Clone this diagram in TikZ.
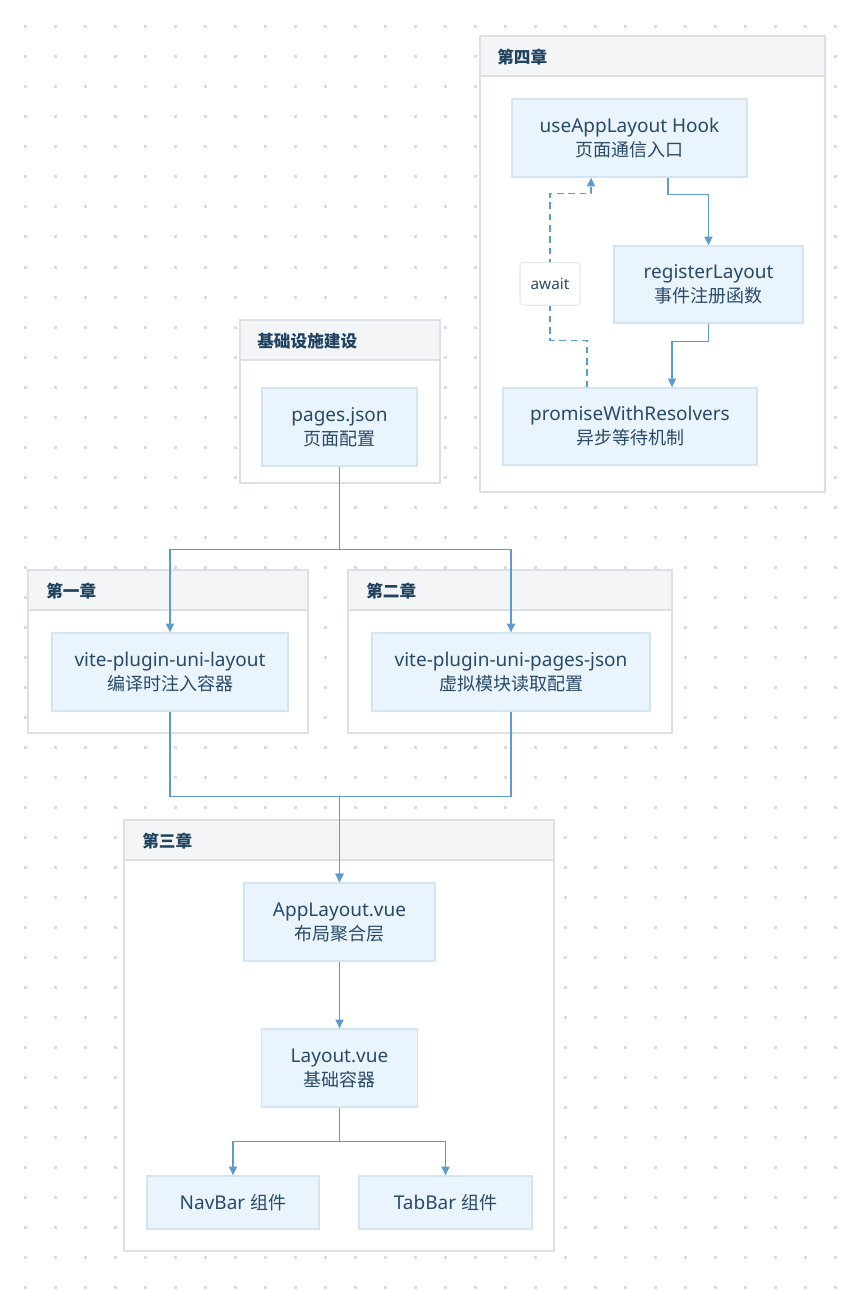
\documentclass[tikz,border=0pt]{standalone}
\usepackage{fontspec}
\setmainfont{Noto Sans}
\newfontfamily\cjk{Noto Sans CJK SC}
\newcommand\zh[1]{{\fontsize{13.5pt}{18pt}\cjk #1}}
\usetikzlibrary{fit,calc,arrows.meta}
\definecolor{dotc}{HTML}{DCDCDC}
\definecolor{nodefill}{HTML}{EAF4FD}
\definecolor{nodeline}{HTML}{D3E4F2}
\definecolor{txt}{HTML}{284A68}
\definecolor{ttl}{HTML}{1F4260}
\definecolor{edgec}{HTML}{5B9BCF}
\definecolor{clline}{HTML}{DCE0E4}
\definecolor{hdfill}{HTML}{F3F5F7}
\definecolor{awline}{HTML}{E6E8EA}
\tikzset{
  box/.style={draw=nodeline, line width=1pt, fill=nodefill, inner sep=0pt, text=txt,
    font=\fontsize{14.25pt}{18pt}\selectfont, align=center, minimum height=58.5pt},
  cluster/.style={draw=clline, line width=1.1pt, fill=white, inner sep=0pt},
  header/.style={draw=clline, line width=1.1pt, fill=hdfill, inner sep=0pt},
  ctitle/.style={anchor=west, text=ttl, font=\fontsize{12.5pt}{15pt}\selectfont\cjk\bfseries, inner sep=0pt},
  edge/.style={draw=edgec, line width=1pt, -{Triangle[length=6.5pt,width=6pt]}},
  awaitlbl/.style={draw=awline, line width=0.8pt, fill=white, rounded corners=2.5pt, text=txt,
    font=\fontsize{11.5pt}{14pt}\selectfont, minimum width=45pt, minimum height=32pt, inner sep=0pt}
}
\begin{document}
\begin{tikzpicture}[x=0.75pt,y=-0.75pt]
\useasboundingbox (0,0) rectangle (845,1291);
% dot grid
\foreach \x in {25,55,...,835}{
  \foreach \y in {27,57,...,1287}{
    \fill[dotc] (\x-1.5,\y-1.5) rectangle ++(3,3);
  }
}
% clusters
\node[cluster, fit={(480,36) (825,492)}] (c4) {};
\node[header, fit={(480,36) (825,76)}] (h4) {};
\node[ctitle] (t4) at (497,57) {第四章};
\node[cluster, fit={(240,320) (440,483)}] (cb) {};
\node[header, fit={(240,320) (440,360)}] (hb) {};
\node[ctitle] (tb0) at (257,341) {基础设施建设};
\node[cluster, fit={(28,570) (308,733)}] (c1) {};
\node[header, fit={(28,570) (308,610)}] (h1) {};
\node[ctitle] (t1) at (46,591) {第一章};
\node[cluster, fit={(348,570) (672,733)}] (c2) {};
\node[header, fit={(348,570) (672,610)}] (h2) {};
\node[ctitle] (t2) at (366,591) {第二章};
\node[cluster, fit={(124,820) (554,1251)}] (c3) {};
\node[header, fit={(124,820) (554,860)}] (h3) {};
\node[ctitle] (t3) at (142,841) {第三章};
% nodes
\node[box, minimum width=176.25pt] (ua) at (629.5,138) {useAppLayout Hook\\\zh{页面通信入口}};
\node[box, minimum width=141.75pt, minimum height=57.75pt] (rl) at (708.5,284.5) {registerLayout\\\zh{事件注册函数}};
\node[box, minimum width=190.5pt, minimum height=57.75pt] (pr) at (630,426.5) {promiseWithResolvers\\\zh{异步等待机制}};
\node[box, minimum width=116.25pt] (pj) at (339.5,427) {pages.json\\\zh{页面配置}};
\node[box, minimum width=177pt] (v1) at (170,672) {vite-plugin-uni-layout\\\zh{编译时注入容器}};
\node[box, minimum width=208.5pt] (v2) at (511,672) {vite-plugin-uni-pages-json\\\zh{虚拟模块读取配置}};
\node[box, minimum width=143.25pt] (al) at (339.5,922) {AppLayout.vue\\\zh{布局聚合层}};
\node[box, minimum width=117pt] (lv) at (339.5,1068) {Layout.vue\\\zh{基础容器}};
\node[box, minimum width=129pt, minimum height=39.75pt] (nb) at (233,1202.5) {NavBar \zh{组件}};
\node[box, minimum width=129.75pt, minimum height=39.75pt] (tb) at (445.5,1202.5) {TabBar \zh{组件}};
% edges
\draw[edge] (pj.south) -- ++(0,83) -| (v1.north);
\draw[edge] (pj.south) -- ++(0,83) -| (v2.north);
\coordinate (m1) at ($(al.north)+(0,-86)$);
\draw[edge] (v1.south) |- (m1) -- (al.north);
\draw[edge] (v2.south) |- (m1) -- (al.north);
\draw[edge] (al.south) -- (lv.north);
\draw[edge] (lv.south) -- ++(0,34) -| (nb.north);
\draw[edge] (lv.south) -- ++(0,34) -| (tb.north);
\draw[edge] ($(ua.south)+(38.5,0)$) -- ++(0,17) -| (rl.north);
\draw[edge] (rl.south) -- ++(0,18) -| ($(pr.north)+(42,0)$);
\coordinate (d0) at ($(pr.north)+(-43,0)$);
\coordinate (d1) at ($(ua.south)+(-38.5,0)$);
\draw[edge, dashed, dash pattern=on 5pt off 3.5pt] (d0) -- ++(0,-47) -- ++(-37,0)
  -- node[awaitlbl, solid, pos=0.384] (aw) {await} ++(0,-147) -- ++(41,0) -- (d1);
\end{tikzpicture}
\end{document}
